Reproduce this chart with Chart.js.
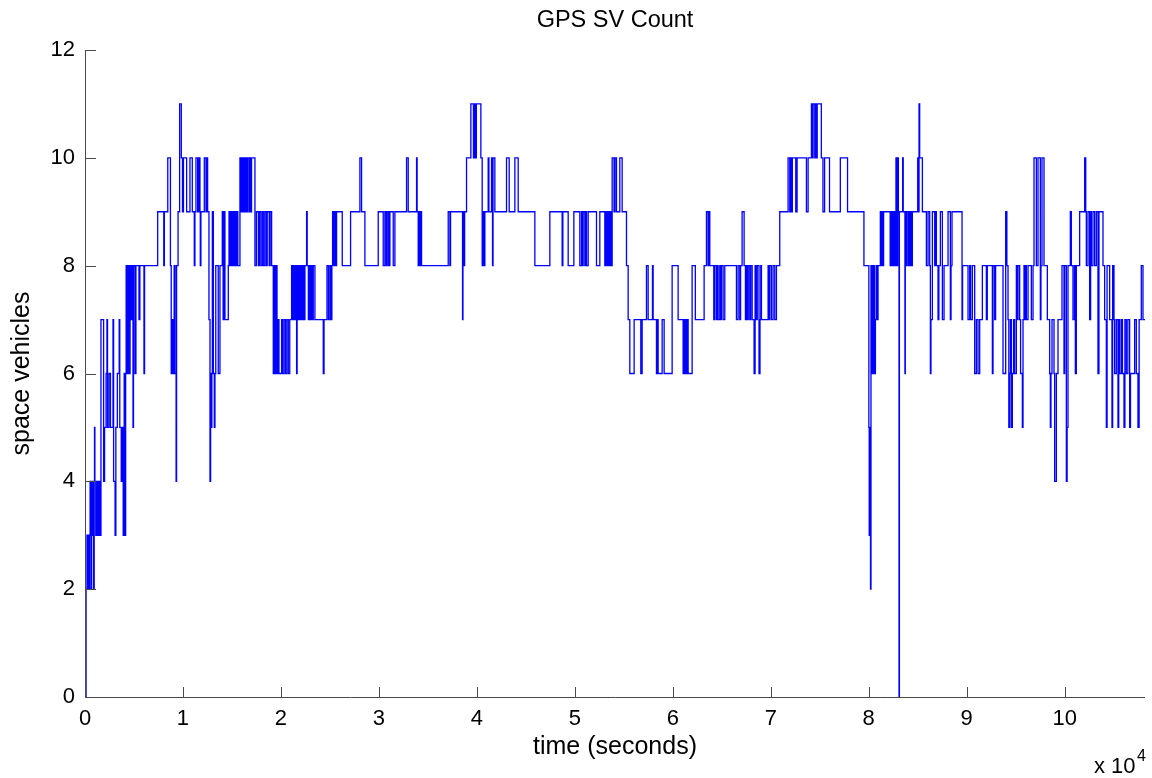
<!DOCTYPE html>
<html>
<head>
<meta charset="utf-8">
<title>GPS SV Count</title>
<script src="https://cdn.jsdelivr.net/npm/chart.js@4.4.1/dist/chart.umd.min.js"></script>
<style>
  html, body { margin: 0; padding: 0; background: #fff; }
  canvas { display: block; }
</style>
</head>
<body>
<canvas id="svChart" width="1152" height="778"></canvas>
<script>
/* ==========================
   DATA  (time in seconds -> satellites in view, one row per change)
========================== */
const times1 = [
  0,110,200,260,330,390,450,520,600,680,
  760,820,880,940,970,1010,1100,1180,1260,1330,
  1420,1480,1560,1630,1900,2000,2150,2240,2300,2450,
  2600,2860,2920,3070,3150,3300,3490,3550,3700,3800,
  3900,4000,4080,4150,4200,4300,4400,4500,4600,4700,
  4800,4900,4950,5100,5200,5510,5600,6020,6080,7420,
  8040,8100,8450,8720,8800,8900,9000,9100,9200,9300,
  9350,9500,9660,9830,9950
];
const sats1 = [
  0,2,3,2,3,2,3,4,2,4,
  3,4,2,4,5,4,3,4,3,4,
  3,4,3,7,4,5,6,7,5,6,
  5,7,4,3,5,6,7,5,4,5,
  3,6,3,6,8,6,8,6,8,7,
  8,5,8,6,8,7,8,6,8,9,
  8,9,10,8,6,7,6,8,6,4,
  8,9,11,10,9
];

const times2 = [
  10050,10374,10714,10952,11156,11220,11327,11500,11600,11735,
  11769,11830,12177,12350,12400,12517,12653,12760,12823,12900,
  12950,13000,13100,13197,13265,13350,13600,13776,14014,14100,
  14200,14286,14626,14700,14796,14900,15000,15100,15200,15300,
  15400,15500,15600,15816,15900,16000,16100,16200,16300,16400,
  16500,16600,16750,16800,16900,17000,17347,17500,17700,17800,
  17950,18100,18200,18350,18500,18600,18800,18900,19050,19218,
  19300,19400,19500,19600,19700,19800,20068,20150,20300,20450,
  20600,20750,20900
];
const sats2 = [
  10,9,10,9,8,9,10,9,10,9,
  8,9,10,9,10,9,7,4,6,5,
  6,9,6,5,6,8,6,8,9,7,
  9,7,8,9,8,9,8,9,8,9,
  8,9,8,10,9,10,9,10,9,10,
  9,10,9,10,9,10,8,9,8,9,
  8,9,8,9,8,9,8,9,8,6,
  8,6,8,6,7,6,7,6,7,6,
  7,6,7
];

const times3 = [
  21088,21200,21300,21400,21500,21599,21650,21750,21850,21950,
  22050,22150,22250,22350,22449,22619,22680,22800,22900,23000,
  23100,23200,23300,23469,24320,24400,24700,24850,25000,25100,
  25200,25272,25400,25510,25600,25680,26259,27109,28061,28231,
  28571,29932,30442,30612,30750,30850,31000,31122,31463,31633
];
const sats3 = [
  8,7,8,7,8,6,8,7,8,7,
  8,7,8,7,8,9,8,7,8,7,
  8,7,8,7,6,7,8,7,8,7,
  8,9,8,9,8,9,8,9,10,9,
  8,9,8,9,8,9,8,9,8,9
];

const times4 = [
  32823,32993,33844,33900,34014,34100,34184,34300,34354,37075,
  37245,37313,38537,38580,38650,38750,38946,39388,39650,39750,
  39850,39950,40408,40544,40600,40700,40816,41156,41230,41497,
  41599,41650,41837
];
const sats4 = [
  10,9,10,9,8,9,8,9,8,9,
  8,9,7,9,8,9,10,11,10,11,
  10,11,10,8,9,8,9,10,9,10,
  8,10,9
];

const times5 = [
  43027,43299,43878,44218,45918,47449,48707,48780,49320,49898,
  50510,50680,50780,50850,51020,51100,51190,51361,52211,52551,
  53061,53163,53250,53350,53450,53571
];
const sats5 = [
  10,9,10,9,8,9,8,9,8,9,
  8,9,8,9,8,9,8,9,8,9,
  8,9,8,9,8,9
];

const times6 = [
  53700,53810,54000,54100,54252,54592,54830,55272,55442,55612,
  56054,56735,56871,57313,57483,57925,57993,58333,58420,58503,
  58912,59116,59932,60544,61054,61140,61224,61310,61395,61480,
  61565,61973,62300,63197,63435,63600,63700,63776
];
const sats6 = [
  8,10,9,10,9,10,9,8,7,6,
  7,6,7,8,7,8,7,6,7,6,
  7,6,8,7,6,7,6,7,6,7,
  6,8,7,8,9,8,9,8
];

const times7 = [
  64184,64286,64456,64540,64626,64796,64880,64966,65136,65306,
  66497,66667,66837,66920,67075,67279,67415,67500,67585,67700,
  67857,67950,68100,68299,68400,68500,68620,68800,68900,68980,
  69050,69728,69830,69898,70068,70238,70408,70578,70918,71769,
  71939,72030,72109,72200,72551,72687,73639,73810,74150,74250,
  74320,74490,74570,74660,74740
];
const sats7 = [
  7,8,7,8,7,8,7,8,7,8,
  7,8,7,8,9,8,7,8,7,8,
  7,8,7,6,8,7,8,6,7,8,
  7,8,7,8,7,8,7,8,9,10,
  9,10,9,10,9,10,9,10,11,10,
  11,10,11,10,11
];

const times8 = [
  75160,75327,75495,75997,77101,77837,79510,80013,80050,80100,
  80180,80230,80300,80400,80448,80520,80582,80683,80760,80850,
  80950,81185,81270,81352,81430,81519,82189,82270,82356,82440,
  82523,82600,82691,82780,82858,82950,83026,83093,83130,83461,
  83520,83696,83730,83796,83880,84030,84100,84198,84280,84365,
  84450,85000,85060,85134,85200,85476
];
const sats8 = [
  10,9,10,9,10,9,8,5,3,5,
  2,8,6,8,6,8,6,7,8,7,
  8,9,8,9,8,9,8,9,8,9,
  8,9,8,10,8,10,9,0,9,10,
  9,6,9,8,9,8,9,8,9,8,
  9,10,9,11,10,9
];

const times9 = [
  85884,86054,86224,86293,86350,86497,86735,86820,86905,87075,
  87160,87313,87517,87687,88095,88333,88400,88500,89524,89580,
  90136,90306,90400,90578,90816,90986,91156,91327,91599,92007,
  92100,92619,92687,92857,92950,93707,93980,94100,94218,94300,
  94388,94470,94558,94660,94780,94898,95068,95150,95238,95408,
  95500,95680,95748,95850,95918,96000,96088,96259
];
const sats9 = [
  8,9,8,6,7,9,8,9,8,7,
  8,9,7,8,9,7,8,9,7,8,
  7,8,7,8,6,7,6,7,8,7,
  8,6,8,7,8,6,9,8,7,5,
  6,7,5,6,7,6,8,7,8,7,
  6,5,7,8,7,8,7,8
];

const times10 = [
  96599,96769,96871,97109,97279,97517,97580,97687,97891,98231,
  98469,98537,98600,98707,98912,98980,99150,99320,99728,99932,
  100000,100170,100250,100340,100578,100680,100850,101000,101088,101190,
  101531,102041,102150,102211,102381,102551,102650,102721,102891,103061,
  103231,103401,103500,103912,104082,104252,104330,104592,104830,104900,
  105034,105102,105272,105442,105520,105612,105782,105900,106054,106150,
  106293,106450,106633,106720,107143,107313,107483,107600,107823,107993,
  108200
];
const sats10 = [
  7,8,10,8,10,7,8,10,8,7,
  6,5,6,7,6,4,6,7,8,6,
  8,4,5,8,9,8,7,8,6,8,
  9,10,9,8,9,7,9,8,9,8,
  9,6,9,8,7,5,8,7,5,8,
  7,6,7,5,7,6,7,6,5,7,
  6,7,5,6,7,6,5,7,8,7,
  7
];

/* axis tick labels */
const xTickLabels = [0, 1, 2, 3, 4, 5, 6, 7, 8, 9, 10];   // x 10^4 seconds
const yTickLabels = [0, 2, 4, 6, 8, 10, 12];
const X_SCALE = 10000;
const X_MAX = 108200;

/* ==========================
   BUILD POINTS
========================== */
const sampleTimes = [].concat(times1, times2, times3, times4, times5, times6, times7, times8, times9, times10);
const svCounts = [].concat(sats1, sats2, sats3, sats4, sats5, sats6, sats7, sats8, sats9, sats10);
if (sampleTimes.length !== svCounts.length) console.warn("length mismatch", sampleTimes.length, svCounts.length);

const points = sampleTimes.map((t, i) => ({ x: t, y: svCounts[i] }));

const FONT = '"Liberation Sans", Arial, Helvetica, sans-serif';

/* ==========================
   AXES PLUGIN (title over plot, left + bottom lines, inward ticks, exponent)
========================== */
const matlabAxes = {
  id: "matlabAxes",
  afterDatasetsDraw(chart) {
    const { ctx, chartArea: a, scales: { x, y } } = chart;
    ctx.save();

    // title centred on the plot box
    ctx.fillStyle = "#000";
    ctx.textAlign = "center";
    ctx.textBaseline = "middle";
    ctx.font = "23.5px " + FONT;
    ctx.fillText("GPS SV Count", (a.left + a.right) / 2, 21);

    ctx.strokeStyle = "#4a4a4a";
    ctx.lineWidth = 1;
    ctx.beginPath();
    ctx.moveTo(a.left + 0.5, a.top);
    ctx.lineTo(a.left + 0.5, a.bottom + 0.5);
    ctx.lineTo(a.right, a.bottom + 0.5);

    x.ticks.forEach(t => {
      const px = Math.round(x.getPixelForValue(t.value)) + 0.5;
      ctx.moveTo(px, a.bottom);
      ctx.lineTo(px, a.bottom - 10);
    });
    y.ticks.forEach(t => {
      const py = Math.round(y.getPixelForValue(t.value)) + 0.5;
      ctx.moveTo(a.left, py);
      ctx.lineTo(a.left + 11, py);
    });
    ctx.stroke();

    // x 10^4 multiplier under the right end of the axis
    ctx.textAlign = "left";
    ctx.textBaseline = "alphabetic";
    ctx.font = "22px " + FONT;
    ctx.fillText("x 10", 1094, 773);
    ctx.font = "16px " + FONT;
    ctx.fillText("4", 1137, 761);
    ctx.restore();
  }
};

/* ==========================
   CHART
========================== */
new Chart(document.getElementById("svChart"), {
  type: "line",
  data: {
    datasets: [{
      data: points,
      stepped: true,
      borderColor: "#0000ff",
      borderWidth: 1.3,
      pointRadius: 0,
      fill: false,
      tension: 0
    }]
  },
  options: {
    responsive: false,
    animation: false,
    layout: { padding: { left: 0, right: 7, top: 50, bottom: 0 } },
    plugins: {
      legend: { display: false },
      tooltip: { enabled: false },
      title: { display: false }
    },
    scales: {
      x: {
        type: "linear",
        min: 0,
        max: X_MAX,
        afterBuildTicks: s => { s.ticks = xTickLabels.map(v => ({ value: v * X_SCALE })); },
        afterFit: s => { s.height = 81; },
        grid: { display: false, drawTicks: false },
        border: { display: false },
        ticks: {
          color: "#000",
          padding: 9,
          maxRotation: 0,
          autoSkip: false,
          font: { family: FONT, size: 22 },
          callback: v => String(v / X_SCALE)
        },
        title: {
          display: true,
          text: "time (seconds)",
          color: "#000",
          font: { family: FONT, size: 25 },
          padding: { top: 0, bottom: 16 }
        }
      },
      y: {
        min: 0,
        max: 12,
        afterBuildTicks: s => { s.ticks = yTickLabels.map(v => ({ value: v })); },
        afterFit: s => { s.width = 85; },
        grid: { display: false, drawTicks: false },
        border: { display: false },
        ticks: {
          color: "#000",
          padding: 10,
          autoSkip: false,
          font: { family: FONT, size: 22 }
        },
        title: {
          display: true,
          text: "space vehicles",
          color: "#000",
          font: { family: FONT, size: 25 },
          padding: { top: 7, bottom: 0 }
        }
      }
    }
  },
  plugins: [matlabAxes]
});
</script>
</body>
</html>
